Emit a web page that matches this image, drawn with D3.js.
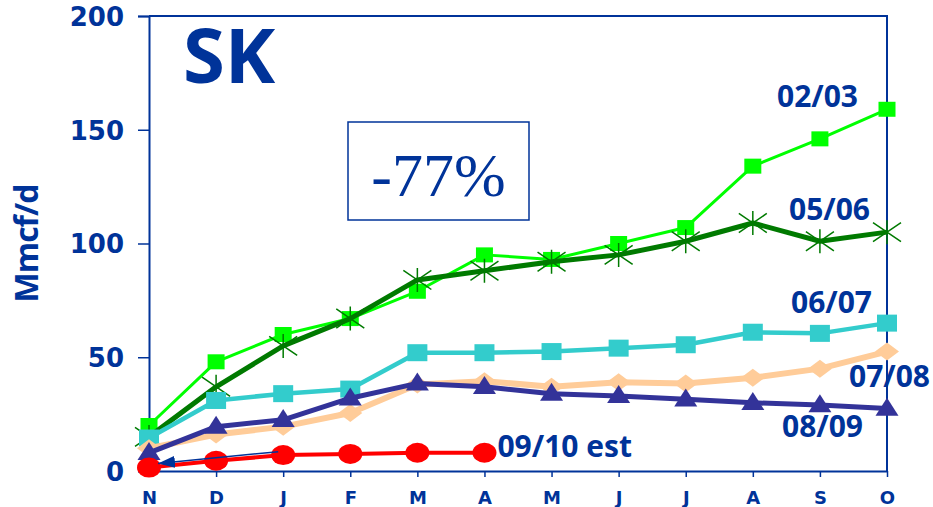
<!DOCTYPE html>
<html>
<head>
<meta charset="utf-8">
<script src="https://cdn.jsdelivr.net/npm/d3@7"></script>
<style>
  body { margin: 0; background: #fff; }
  svg { display: block; }
</style>
</head>
<body>
<div id="chart"></div>
<script>
const months = ['N', 'D', 'J', 'F', 'M', 'A', 'M', 'J', 'J', 'A', 'S', 'O']
const yTicks = [0, 50, 100, 150, 200]

const s0203 = [20, 48, 60, 67, 79, 95, 93, 100, 107, 134, 146, 159]
const s0506 = [15, 37, 55, 67, 84, 88, 92, 95, 101, 109, 101, 105]
const s0607 = [14.5, 31, 34, 36, 52, 52, 52.5, 54, 55.5, 61, 60.5, 65]
const s0708 = [10, 16, 19.5, 25.5, 38, 39.5, 37, 39, 38.5, 41, 45, 52.5]
const s0809 = [8, 19.5, 22.5, 32, 38.5, 37, 34, 33, 31.5, 30, 29, 27.5]
const s0910 = [1.5, 4.5, 7, 7.5, 8, 8]

const seriesNames = ['02/03', '05/06', '06/07', '07/08', '08/09', '09/10 est']
const changeLabel = '-77%'
const regionLabel = 'SK'
const unitLabel = 'Mmcf/d'

const navy = '#003399'
const width = 933
const height = 507
const margin = { top: 16, right: 46, bottom: 36, left: 149 }

const series = [
  { name: seriesNames[0], values: s0203, color: '#00ff00', lw: 3, marker: 'rect', mw: 17, mh: 15, ldx: -29, ldy: -2, anchor: 'end' },
  { name: seriesNames[1], values: s0506, color: '#007a00', lw: 5, marker: 'star', mw: 28, mh: 24, ldx: -17, ldy: -12, anchor: 'end' },
  { name: seriesNames[2], values: s0607, color: '#33cccc', lw: 4.5, marker: 'rect', mw: 20, mh: 17, ldx: -15, ldy: -10, anchor: 'end' },
  { name: seriesNames[3], values: s0708, color: '#ffcc99', lw: 6, marker: 'diamond', mw: 24, mh: 18, ldx: 43, ldy: 35, anchor: 'end' },
  { name: seriesNames[4], values: s0809, color: '#333399', lw: 5, marker: 'triangle', mw: 23, mh: 18, ldx: -24, ldy: 29, anchor: 'end' },
  { name: seriesNames[5], values: s0910, color: '#ff0000', lw: 4, marker: 'ellipse', mw: 24, mh: 20, ldx: 13, ldy: 4, anchor: 'start' },
]

const svg = d3
  .select('#chart')
  .append('svg')
  .attr('width', width)
  .attr('height', height)
  .style('background', '#fff')

const x = d3
  .scalePoint()
  .domain(d3.range(months.length))
  .range([margin.left, width - margin.right])

const y = d3
  .scaleLinear()
  .domain([0, 200])
  .range([height - margin.bottom, margin.top])

// frame + axes
function renderAxes() {
  const yAxis = svg
    .append('g')
    .attr('transform', `translate(${margin.left},0)`)
    .call(d3.axisLeft(y).tickValues(yTicks).tickSize(11).tickPadding(14))
  yAxis.select('.domain').attr('stroke', navy).attr('stroke-width', 2)
  yAxis.selectAll('.tick line').attr('stroke', navy).attr('stroke-width', 1.5)
  yAxis
    .selectAll('.tick text')
    .attr('fill', navy)
    .attr('font-family', 'DejaVu Sans')
    .attr('font-weight', 'bold')
    .attr('font-size', 26)
    .attr('dy', '0.36em')

  const xAxis = svg
    .append('g')
    .attr('transform', `translate(0,${height - margin.bottom})`)
    .call(
      d3
        .axisBottom(x)
        .tickFormat(i => months[i])
        .tickSize(6)
        .tickSizeOuter(0)
        .tickPadding(14),
    )
  xAxis.select('.domain').attr('stroke', navy).attr('stroke-width', 2)
  xAxis.selectAll('.tick line').attr('stroke', navy).attr('stroke-width', 1.5)
  xAxis
    .selectAll('.tick text')
    .attr('fill', navy)
    .attr('font-family', 'DejaVu Sans')
    .attr('font-weight', 'bold')
    .attr('font-size', 18)

  // top and right edges of the plot frame
  svg
    .append('path')
    .attr('d', `M${x(0)},${y(200)}H${x(months.length - 1)}V${y(0)}`)
    .attr('fill', 'none')
    .attr('stroke', navy)
    .attr('stroke-width', 2)

  svg
    .append('text')
    .attr('transform', `translate(38,${(y(0) + y(200)) / 2}) rotate(-90)`)
    .attr('text-anchor', 'middle')
    .attr('font-family', 'Open Sans')
    .attr('font-weight', 'bold')
    .attr('font-size', 32)
    .attr('letter-spacing', -1)
    .attr('fill', navy)
    .text(unitLabel)
}

function drawMarker(g, s) {
  const w = s.mw / 2
  const h = s.mh / 2
  if (s.marker === 'rect') {
    g.append('rect')
      .attr('x', -w)
      .attr('y', -h)
      .attr('width', s.mw)
      .attr('height', s.mh)
      .attr('fill', s.color)
  } else if (s.marker === 'diamond') {
    g.append('path')
      .attr('d', `M${-w},0L0,${-h}L${w},0L0,${h}Z`)
      .attr('fill', s.color)
  } else if (s.marker === 'triangle') {
    g.append('path')
      .attr('d', `M${-w},${h * 0.8}L0,${-h * 1.2}L${w},${h * 0.8}Z`)
      .attr('fill', s.color)
  } else if (s.marker === 'ellipse') {
    g.append('ellipse').attr('rx', w).attr('ry', h).attr('fill', s.color)
  } else if (s.marker === 'star') {
    g.append('path')
      .attr('d', `M${-w},${-h * 0.8}L${w},${h * 0.8}M${-w},${h * 0.8}L${w},${-h * 0.8}M0,${-h}V${h}`)
      .attr('stroke', s.color)
      .attr('stroke-width', 1.5)
      .attr('fill', 'none')
  }
}

function renderSeries() {
  const line = d3
    .line()
    .x((d, i) => x(i))
    .y(d => y(d))

  series.forEach(s => {
    const g = svg.append('g').attr('class', 'series')
    g.append('path')
      .datum(s.values)
      .attr('d', line)
      .attr('fill', 'none')
      .attr('stroke', s.color)
      .attr('stroke-width', s.lw)
      .attr('stroke-linejoin', 'round')

    g.selectAll('g.pt')
      .data(s.values)
      .join('g')
      .attr('class', 'pt')
      .attr('transform', (d, i) => `translate(${x(i)},${y(d)})`)
      .each(function () {
        drawMarker(d3.select(this), s)
      })

    const last = s.values.length - 1
    g.append('text')
      .attr('x', x(last) + s.ldx)
      .attr('y', y(s.values[last]) + s.ldy)
      .attr('text-anchor', s.anchor)
      .attr('font-family', 'Open Sans')
      .attr('font-weight', 'bold')
      .attr('font-size', 30)
      .attr('fill', navy)
      .text(s.name)
  })
}

function renderAnnotations() {
  // little arrow pointing back to the start of the 09/10 line
  svg
    .append('defs')
    .append('marker')
    .attr('id', 'arrow')
    .attr('viewBox', '0 0 10 10')
    .attr('preserveAspectRatio', 'none')
    .attr('refX', 10)
    .attr('refY', 5)
    .attr('markerWidth', 17)
    .attr('markerHeight', 12)
    .attr('markerUnits', 'userSpaceOnUse')
    .attr('orient', 'auto')
    .append('path')
    .attr('d', 'M0,0L10,5L0,10Z')
    .attr('fill', navy)

  svg
    .append('line')
    .attr('x1', x(2) - 5)
    .attr('y1', y(8.5))
    .attr('x2', x(0) + 9)
    .attr('y2', y(3.3))
    .attr('stroke', navy)
    .attr('stroke-width', 1.5)
    .attr('marker-end', 'url(#arrow)')

  svg
    .append('text')
    .attr('x', 183)
    .attr('y', 83)
    .attr('font-family', 'Open Sans')
    .attr('font-weight', 'bold')
    .attr('font-size', 76)
    .attr('fill', navy)
    .text(regionLabel)

  svg
    .append('rect')
    .attr('x', 348)
    .attr('y', 122)
    .attr('width', 181)
    .attr('height', 98)
    .attr('fill', 'none')
    .attr('stroke', navy)
    .attr('stroke-width', 1.5)

  svg
    .append('text')
    .attr('x', 438.5)
    .attr('y', 196)
    .attr('text-anchor', 'middle')
    .attr('font-family', 'Liberation Serif')
    .attr('font-size', 62)
    .attr('fill', navy)
    .text(changeLabel)
}

renderAxes()
renderSeries()
renderAnnotations()
</script>
</body>
</html>
